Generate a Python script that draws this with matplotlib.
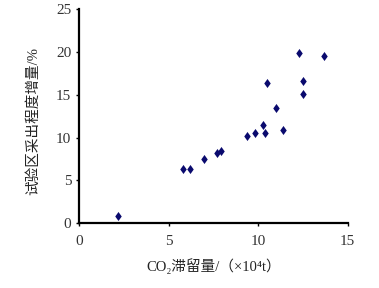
import matplotlib
matplotlib.use("Agg")
import matplotlib.pyplot as plt
from matplotlib.path import Path

co2_retention = [2.2, 5.8, 6.2, 7.0, 7.7, 7.9, 9.4, 9.8, 10.3, 10.4, 10.5,
                 11.0, 11.4, 12.3, 12.5, 12.5, 13.7]
recovery_increase = [0.9, 6.3, 6.3, 7.5, 8.2, 8.45, 10.25, 10.5, 11.5, 10.5, 16.35,
                     13.45, 10.9, 19.85, 16.6, 15.1, 19.5]
x_ticks = [0, 5, 10, 15]
y_ticks = [0, 5, 10, 15, 20, 25]

fam = ['Liberation Serif', 'Noto Sans CJK SC', 'DejaVu Sans']

fig = plt.figure(figsize=(3.79, 2.88), dpi=100)
ax = fig.add_axes([0.2084, 0.2247, 0.7090, 0.7430])

diamond = Path([(0, 1), (0.72, 0), (0, -1), (-0.72, 0), (0, 1)],
               [Path.MOVETO, Path.LINETO, Path.LINETO, Path.LINETO, Path.CLOSEPOLY])
ax.plot(co2_retention, recovery_increase, linestyle='none', marker=diamond,
        markersize=6.5, color='#0a0a6e', markeredgewidth=0, clip_on=False)

ax.set_xlim(0, 15)
ax.set_ylim(0, 25)
ax.set_xticks(x_ticks)
ax.set_yticks(y_ticks)
for s in ['top', 'right']:
    ax.spines[s].set_visible(False)
for s in ['left', 'bottom']:
    ax.spines[s].set_linewidth(1.6)
ax.tick_params(direction='out', length=2.5, width=1, colors='black', labelcolor='#333333',
               labelsize=11)
for lab in ax.get_xticklabels() + ax.get_yticklabels():
    lab.set_family(fam)
ax.xaxis.set_tick_params(pad=6)
ax.yaxis.set_tick_params(pad=3)

ax.set_xlabel('CO₂滞留量/（×10⁴t）', family=fam, fontsize=10.5, color='#222222')
ax.set_ylabel('试验区采出程度增量/%', family=fam, fontsize=10.5, color='#222222')
ax.xaxis.set_label_coords(0.5, -0.165)
ax.yaxis.set_label_coords(-0.145, 0.48)

fig.savefig('out.png', dpi=100, facecolor='white')
